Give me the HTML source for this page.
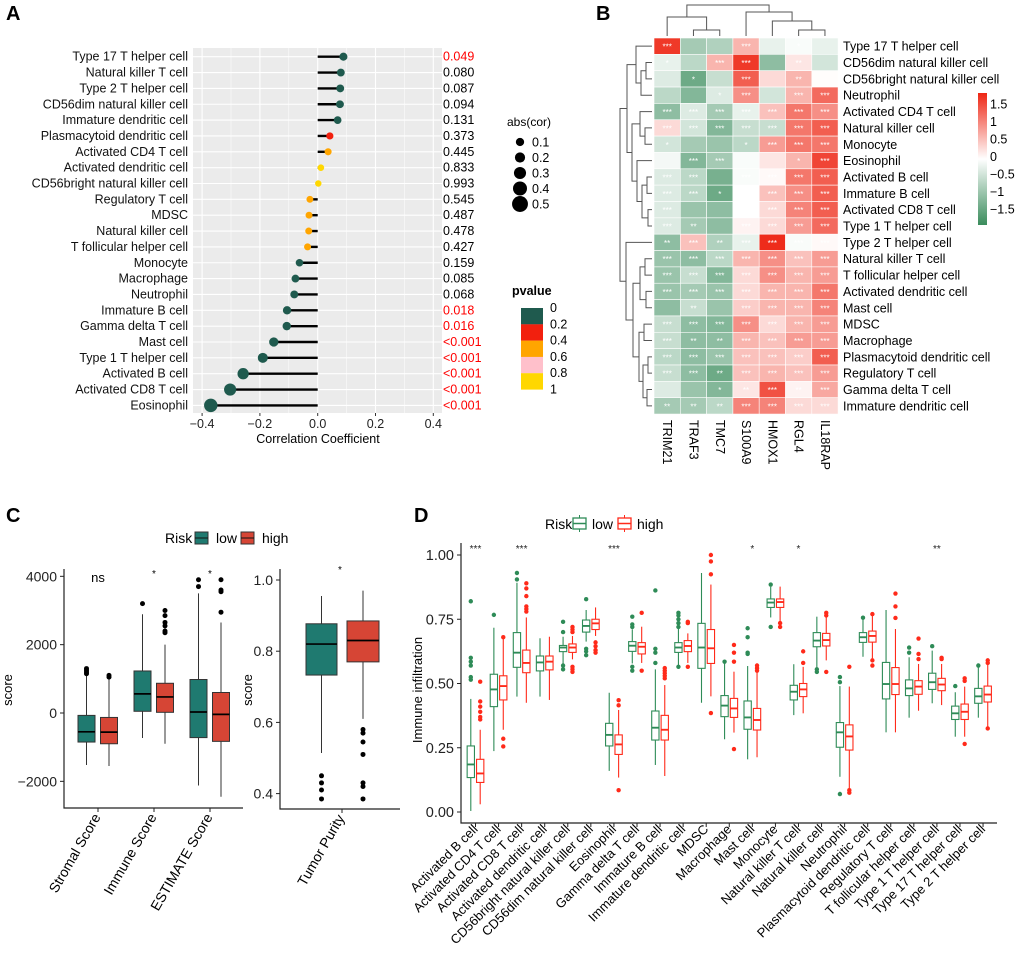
<!DOCTYPE html>
<html><head><meta charset="utf-8">
<style>
html,body{margin:0;padding:0;background:#fff;}
svg{display:block;font-family:"Liberation Sans",Arial,sans-serif;}
</style></head>
<body>
<svg id="fig" width="1020" height="964" viewBox="0 0 1020 964" xmlns="http://www.w3.org/2000/svg">
<text x="6" y="20" font-size="20" font-weight="bold">A</text>
<text x="596" y="20" font-size="20" font-weight="bold">B</text>
<text x="6" y="522" font-size="20" font-weight="bold">C</text>
<text x="414" y="522" font-size="20" font-weight="bold">D</text>
</svg>
<script>
// ---------- Panel A data ----------
const aLabels = ["Type 17 T helper cell","Natural killer T cell","Type 2 T helper cell","CD56dim natural killer cell","Immature dendritic cell","Plasmacytoid dendritic cell","Activated CD4 T cell","Activated dendritic cell","CD56bright natural killer cell","Regulatory T cell","MDSC","Natural killer cell","T follicular helper cell","Monocyte","Macrophage","Neutrophil","Immature  B cell","Gamma delta T cell","Mast cell","Type 1 T helper cell","Activated B cell","Activated CD8 T cell","Eosinophil"];
const aCor = [0.089,0.080,0.078,0.077,0.069,0.042,0.036,0.011,0.002,-0.027,-0.030,-0.031,-0.035,-0.063,-0.077,-0.081,-0.106,-0.107,-0.152,-0.190,-0.258,-0.303,-0.370];
const aPval = [0.049,0.080,0.087,0.094,0.131,0.373,0.445,0.833,0.993,0.545,0.487,0.478,0.427,0.159,0.085,0.068,0.018,0.016,0.0005,0.0005,0.0005,0.0005,0.0005];
const aPtext = ["0.049","0.080","0.087","0.094","0.131","0.373","0.445","0.833","0.993","0.545","0.487","0.478","0.427","0.159","0.085","0.068","0.018","0.016","<0.001","<0.001","<0.001","<0.001","<0.001"];
const aTicks = [-0.4,-0.2,0.0,0.2,0.4];
const aTickLabels = ["\u22120.4","\u22120.2","0.0","0.2","0.4"];
const sizeLegend = [0.1,0.2,0.3,0.4,0.5];
const pLegend = ["0","0.2","0.4","0.6","0.8","1"];
// ---------- Panel B data ----------
const bRows = ["Type 17 T helper cell","CD56dim natural killer cell","CD56bright natural killer cell","Neutrophil","Activated CD4 T cell","Natural killer cell","Monocyte","Eosinophil","Activated B cell","Immature  B cell","Activated CD8 T cell","Type 1 T helper cell","Type 2 T helper cell","Natural killer T cell","T follicular helper cell","Activated dendritic cell","Mast cell","MDSC","Macrophage","Plasmacytoid dendritic cell","Regulatory T cell","Gamma delta T cell","Immature dendritic cell"];
const bCols = ["TRIM21","TRAF3","TMC7","S100A9","HMOX1","RGL4","IL18RAP"];
const bVals = [
[1.6,-0.8,-0.7,0.6,-0.2,-0.05,-0.2],
[-0.2,-0.6,0.6,1.6,-1.0,0.2,-0.4],
[-0.3,-1.3,-0.5,1.3,0.3,0.6,0.02],
[-0.6,-1.1,-0.3,0.9,-0.4,0.6,1.2],
[-1.0,-0.3,-0.8,-0.2,0.5,1.1,0.9],
[0.3,-0.4,-1.1,-0.5,-0.5,1.1,1.3],
[-0.4,-0.8,-0.9,-0.6,0.8,1.1,1.1],
[-0.1,-1.1,-0.8,-0.05,0.2,0.6,1.5],
[-0.3,-0.6,-1.2,-0.05,0.05,1.1,1.3],
[-0.3,-0.6,-1.3,0.0,0.5,0.9,1.3],
[-0.3,-0.9,-1.0,0.0,0.3,1.0,1.3],
[-0.3,-0.8,-1.0,0.1,0.3,0.8,1.2],
[-1.0,0.5,-0.7,-0.2,1.7,-0.05,0.05],
[-0.9,-1.0,-0.6,0.6,0.9,0.5,0.8],
[-0.9,-0.5,-1.1,0.3,0.9,0.6,0.8],
[-0.9,-0.8,-0.9,0.3,0.6,0.6,1.1],
[-1.0,-0.5,-0.9,0.4,0.6,0.6,1.0],
[-0.5,-1.0,-1.1,0.9,0.3,0.6,0.8],
[-0.5,-1.0,-1.0,0.6,0.5,0.8,0.8],
[-0.6,-1.0,-0.9,0.5,0.5,0.4,1.3],
[-0.5,-1.0,-1.3,0.5,0.6,0.5,0.8],
[-0.3,-0.9,-1.1,0.2,1.4,0.1,0.7],
[-0.8,-0.8,-0.6,1.0,1.0,0.3,0.3]];
const bStars = ["3003010","1033020","0103020","0013033","3333333","3333333","1001333","0330013","3303333","3310333","3000333","3203333","2323333","3333333","3333333","3333333","0203333","3333333","3223333","3333333","3323333","0012323","2223333"];
const bLegendTicks = [1.5,1,0.5,0,-0.5,-1,-1.5];
const bLegendLabels = ["1.5","1","0.5","0","\u22120.5","\u22121","\u22121.5"];
// ---------- Panel C data ----------
const cCats = ["Stromal Score","Immune Score","ESTIMATE Score"];
const cSig = ["ns","*","*"];
const cLowQ1 = [-850,50,-720], cLowMed = [-550,560,30], cLowQ3 = [-70,1230,980], cLowMin = [-1520,-730,-2120], cLowMax = [1100,2890,3500];
const cLowOut = [[1150,1200,1250,1300],[3200],[3700,3900]];
const cHighQ1 = [-900,20,-830], cHighMed = [-560,470,-40], cHighQ3 = [-130,870,600], cHighMin = [-1550,-900,-2450], cHighMax = [1000,2000,2650];
const cHighOut = [[1050,1100],[2350,2400,2550,2650,2850,3000],[2950,3550,3600,3900]];
const cTicks = [-2000,0,2000,4000];
const cTickLabels = ["\u22122000","0","2000","4000"];
const tpLow = {q1:0.733,med:0.82,q3:0.877,min:0.514,max:0.955,out:[0.45,0.43,0.41,0.385]};
const tpHigh = {q1:0.77,med:0.83,q3:0.885,min:0.61,max:0.97,out:[0.58,0.57,0.545,0.51,0.43,0.42,0.385]};
const tpTicks = [0.4,0.6,0.8,1.0];
const tpTickLabels = ["0.4","0.6","0.8","1.0"];
// ---------- Panel D data ----------
const dCats = ["Activated B cell","Activated CD4 T cell","Activated CD8 T cell","Activated dendritic cell","CD56bright natural killer cell","CD56dim natural killer cell","Eosinophil","Gamma delta T cell","Immature  B cell","Immature dendritic cell","MDSC","Macrophage","Mast cell","Monocyte","Natural killer T cell","Natural killer cell","Neutrophil","Plasmacytoid dendritic cell","Regulatory T cell","T follicular helper cell","Type 1 T helper cell","Type 17 T helper cell","Type 2 T helper cell"];
const dSig = ["***","","***","","","","***","","","","","","*","","*","","","","","","**","",""];
const dLowQ1 = [0.134,0.41,0.563,0.549,0.624,0.70,0.257,0.625,0.28,0.621,0.559,0.371,0.322,0.796,0.436,0.643,0.252,0.66,0.44,0.453,0.477,0.36,0.423];
const dLowMed = [0.185,0.477,0.62,0.582,0.64,0.724,0.30,0.647,0.328,0.64,0.64,0.414,0.368,0.815,0.468,0.667,0.31,0.68,0.498,0.481,0.505,0.384,0.45];
const dLowQ3 = [0.257,0.536,0.698,0.607,0.648,0.747,0.345,0.663,0.393,0.659,0.734,0.453,0.432,0.829,0.493,0.698,0.348,0.698,0.582,0.514,0.54,0.412,0.481];
const dLowMin = [0.004,0.237,0.449,0.449,0.578,0.663,0.16,0.578,0.183,0.566,0.425,0.283,0.205,0.757,0.377,0.559,0.137,0.604,0.31,0.367,0.423,0.293,0.367];
const dLowMax = [0.44,0.717,0.892,0.676,0.682,0.786,0.464,0.711,0.555,0.715,0.93,0.585,0.568,0.877,0.575,0.76,0.49,0.754,0.786,0.602,0.628,0.466,0.568];
const dLowOut = [[0.82,0.6,0.585,0.57,0.525,0.515],[0.767],[0.93,0.905],[],[0.74,0.70,0.57,0.555],[0.828,0.635,0.625,0.61],[],[0.76,0.73,0.72,0.565,0.55],[0.862,0.635,0.62,0.58],[0.775,0.765,0.75,0.735,0.72,0.565],[],[0.585],[0.715,0.68,0.62,0.615],[0.885,0.72],[],[0.555,0.545],[0.525,0.505,0.07],[0.756],[],[0.64,0.62],[0.645],[0.49],[0.57]];
const dHighQ1 = [0.115,0.436,0.542,0.553,0.621,0.71,0.224,0.615,0.28,0.624,0.578,0.368,0.319,0.796,0.449,0.646,0.241,0.661,0.457,0.458,0.472,0.36,0.428];
const dHighMed = [0.15,0.49,0.58,0.585,0.64,0.734,0.263,0.643,0.32,0.646,0.637,0.403,0.358,0.817,0.477,0.669,0.294,0.685,0.498,0.488,0.496,0.39,0.457];
const dHighQ3 = [0.205,0.53,0.63,0.607,0.654,0.75,0.30,0.659,0.376,0.667,0.71,0.442,0.403,0.829,0.50,0.695,0.339,0.704,0.562,0.511,0.52,0.42,0.49];
const dHighMin = [0.03,0.32,0.425,0.436,0.594,0.685,0.134,0.58,0.14,0.58,0.45,0.309,0.213,0.74,0.384,0.59,0.08,0.598,0.31,0.394,0.416,0.293,0.332];
const dHighMax = [0.32,0.676,0.757,0.682,0.685,0.796,0.397,0.721,0.494,0.695,0.885,0.546,0.565,0.877,0.565,0.77,0.488,0.769,0.712,0.576,0.576,0.488,0.578];
const dHighOut = [[0.507,0.43,0.41,0.39,0.37,0.36],[0.68,0.285,0.255],[0.89,0.87,0.84,0.80,0.79,0.78],[],[0.72,0.71,0.70,0.565,0.555,0.545],[0.66,0.645,0.63,0.62],[0.435,0.415,0.085],[0.775,0.55],[0.56,0.55,0.54,0.53,0.52],[0.74,0.735,0.565],[1.0,0.975,0.925,0.385],[0.65,0.62,0.585,0.245],[0.57,0.56,0.55],[0.735,0.72],[0.625,0.58],[0.775,0.765,0.545],[0.565,0.085,0.075],[0.77,0.59,0.57],[0.85,0.80,0.755],[0.675,0.615,0.595],[0.6,0.595],[0.52,0.51,0.265],[0.59,0.58,0.325]];
const dTicks = [0,0.25,0.5,0.75,1.0];
const dTickLabels = ["0.00","0.25","0.50","0.75","1.00"];

const NS = "http://www.w3.org/2000/svg";
const svg = document.getElementById("fig");
function mk(tag, attrs, parent){
  const e = document.createElementNS(NS, tag);
  for (const k in attrs) e.setAttribute(k, attrs[k]);
  (parent||svg).appendChild(e);
  return e;
}
function txt(x,y,s,attrs,parent){
  const e = mk("text", Object.assign({x:x,y:y}, attrs), parent);
  e.textContent = s;
  return e;
}

// ================= PANEL A =================
const gA = mk("g",{});


const axZero = 317.7, axK = 289, rowY0 = 56.7, rowStep = 15.85;
const xA = v => axZero + v*axK;
const yA = i => rowY0 + i*rowStep;
const bgA = mk("rect",{x:193,y:48,width:249,height:365,fill:"#ebebeb"},gA);


for (let v=-0.4; v<=0.401; v+=0.1){
  const major = Math.abs(Math.round(v*10))%2===0;
  const gl = mk("line",{x1:xA(v),x2:xA(v),y1:48,y2:413,stroke:"#fff","stroke-width":major?1.1:0.5},gA);
  
  
}
for (let i=0;i<aLabels.length;i++){
  const hl = mk("line",{x1:193,x2:442,y1:yA(i),y2:yA(i),stroke:"#fff","stroke-width":1.1},gA);
  
  
}
function pColor(p){ if(p<0.2) return "#1f5a4e"; if(p<0.4) return "#f2200e"; if(p<0.6) return "#ffa500"; if(p<0.8) return "#ffc0cb"; return "#ffd700"; }
for (let i=0;i<aLabels.length;i++){
  const y = yA(i);
  const lab = txt(188,y+4,aLabels[i],{"font-size":12.5,"text-anchor":"end",fill:"#111"},gA);
  
  
  const stem = mk("line",{x1:xA(0),x2:xA(aCor[i]),y1:y,y2:y,stroke:"#000","stroke-width":2.4},gA);
  
  
  const dot = mk("circle",{cx:xA(aCor[i]),cy:y,r:3.2+9.5*Math.abs(aCor[i]),fill:pColor(aPval[i])},gA);
  
  
  const pt = txt(443,y+4,aPtext[i],{"font-size":12.5,fill:aPval[i]<0.05?"#ff0000":"#000"},gA);
  
  
}
for (let i=0;i<aTicks.length;i++){
  const tk = mk("line",{x1:xA(aTicks[i]),x2:xA(aTicks[i]),y1:413,y2:416,stroke:"#333"},gA);
  
  
  const tl = txt(xA(aTicks[i]),428,aTickLabels[i],{"font-size":12.5,"text-anchor":"middle",fill:"#222"},gA);
  
  
}
const aXT = txt(318,443,"Correlation Coefficient",{"font-size":12.5,"text-anchor":"middle"},gA);


// size legend
const sLT = txt(507,126,"abs(cor)",{"font-size":12},gA);


for (let i=0;i<sizeLegend.length;i++){
  const yy = 142 + i*15.5;
  const c = mk("circle",{cx:520,cy:yy,r:3.2+9.5*sizeLegend[i],fill:"#000"},gA);
  
  
  const t = txt(532,yy+4.5,String(sizeLegend[i]),{"font-size":12.5},gA);
  
  
}
const pLT = txt(512,295,"pvalue",{"font-size":12.5,"font-weight":"bold"},gA);


const pCols = ["#1f5a4e","#f2200e","#ffa500","#ffc0cb","#ffd700"];
for (let i=0;i<5;i++){
  const r = mk("rect",{x:521,y:308+i*16.3,width:22,height:16.4,fill:pCols[i]},gA);
  
  
}
for (let i=0;i<pLegend.length;i++){
  const t = txt(550,312+i*16.3,pLegend[i],{"font-size":12.5},gA);
  
  
}

// ================= PANEL B =================
const gB = mk("g",{});


const hx0 = 654, hy0 = 38, cw = 26.3, ch = 16.35;
function lerp(a,b,t){return Math.round(a+(b-a)*t);}
function heatColor(v){
  const t = Math.min(1, Math.abs(v)/1.75);
  const c = v>=0 ? [238,38,20] : [58,140,92];
  return "rgb("+lerp(255,c[0],t)+","+lerp(255,c[1],t)+","+lerp(255,c[2],t)+")";
}
for (let r=0;r<bRows.length;r++){
  for (let c=0;c<bCols.length;c++){
    const cell = mk("rect",{x:hx0+c*cw,y:hy0+r*ch,width:cw,height:ch,fill:heatColor(bVals[r][c]),stroke:"#fff","stroke-width":0.6},gB);
    
    
    const n = +bStars[r][c];
    if (n>0){
      const st = txt(hx0+c*cw+cw/2,hy0+r*ch+ch/2+3.5,"*".repeat(n),{"font-size":8,"text-anchor":"middle",fill:"#fff"},gB);
      
      
    }
  }
  const rl = txt(843,hy0+r*ch+ch/2+4.5,bRows[r],{"font-size":12.5,fill:"#000"},gB);
  
  
}
for (let c=0;c<bCols.length;c++){
  const cx = hx0+c*cw+cw/2;
  const cl = txt(cx-4,420,bCols[c],{"font-size":12.5,transform:"rotate(90 "+(cx-4)+" 420)"},gB);
  
  
}
// dendrograms
const rowTree = [620,
 [627,[636,0,[641,[646,1,2],3]],[632,[640,4,[645,5,6]],[637,7,[642,[647,8,9],[648,10,11]]]]],
 [626,12,[633,[640,[645,13,14],[646,15,16]],[639,[644,17,18],[643,[648,19,20],[647,21,22]]]]]];
const dend = mk("g",{stroke:"#555","stroke-width":1,fill:"none"},gB);


function drawRow(n){
  if (typeof n==="number") return {x:652,y:hy0+n*ch+ch/2};
  const a = drawRow(n[1]), b = drawRow(n[2]);
  mk("path",{d:"M"+a.x+","+a.y+"H"+n[0]+"V"+b.y+"H"+b.x},dend);
  return {x:n[0],y:(a.y+b.y)/2};
}
drawRow(rowTree);
const colTree = [5,[17,0,[30,1,2]],[12,3,[21,4,[30,5,6]]]];
const dendC = mk("g",{stroke:"#555","stroke-width":1,fill:"none"},gB);


function drawCol(n){
  if (typeof n==="number") return {x:hx0+n*cw+cw/2,y:36};
  const a = drawCol(n[1]), b = drawCol(n[2]);
  mk("path",{d:"M"+a.x+","+a.y+"V"+n[0]+"H"+b.x+"V"+b.y},dendC);
  return {x:(a.x+b.x)/2,y:n[0]};
}
drawCol(colTree);
// colorbar
const defs = mk("defs",{});
const grad = mk("linearGradient",{id:"hg",x1:0,y1:0,x2:0,y2:1},defs);
[[0,1.8],[0.5,0],[1,-1.9]].forEach(s=>mk("stop",{offset:s[0],"stop-color":heatColor(s[1])},grad));
const cbar = mk("rect",{x:978,y:93,width:9,height:132,fill:"url(#hg)"},gB);


for (let i=0;i<bLegendTicks.length;i++){
  const t = txt(990,156.7-bLegendTicks[i]*35+4.5,bLegendLabels[i],{"font-size":12.5},gB);
  
  
}

// ================= PANEL C =================
const gC = mk("g",{});


const cLowCol = "#1f7a70", cHighCol = "#d64535";
// legend
const cRisk = txt(165,543,"Risk",{"font-size":14},gC);


[[195,cLowCol,"low",216],[241,cHighCol,"high",262]].forEach(d=>{
  const k = mk("rect",{x:d[0],y:532,width:13,height:12,fill:d[1],stroke:"#333"},gC);
  
  
  mk("line",{x1:d[0],x2:d[0]+13,y1:538,y2:538,stroke:"#111"},gC);
  const t = txt(d[3],543,d[2],{"font-size":14},gC);
  
  
});
function drawBox(g,cx,w,yf,q1,med,q3,mn,mx,outs,fill,stroke,lw,medCol,orad,ocol,name){
  const wl = mk("line",{x1:cx,x2:cx,y1:yf(mn),y2:yf(mx),stroke:stroke,"stroke-width":lw},g);
  
  
  const b = mk("rect",{x:cx-w/2,y:yf(q3),width:w,height:yf(q1)-yf(q3),fill:fill,stroke:stroke,"stroke-width":lw},g);
  
  
  const m = mk("line",{x1:cx-w/2,x2:cx+w/2,y1:yf(med),y2:yf(med),stroke:medCol,"stroke-width":lw*1.7},g);
  
  
  outs.forEach(o=>{
    const p = mk("circle",{cx:cx,cy:yf(o),r:orad,fill:ocol},g);
    
    
  });
}
const yC = v => 713 - v*0.03417;
const cX = [98,154,210];
const cAx = mk("path",{d:"M64,569V808H243",stroke:"#222","stroke-width":1.2,fill:"none"},gC);


for (let i=0;i<cTicks.length;i++){
  mk("line",{x1:60,x2:64,y1:yC(cTicks[i]),y2:yC(cTicks[i]),stroke:"#222"},gC);
  const t = txt(57,yC(cTicks[i])+5,cTickLabels[i],{"font-size":14,"text-anchor":"end",fill:"#222"},gC);
  
  
}
const cYT = txt(12,690,"score",{"font-size":13,"text-anchor":"middle",transform:"rotate(-90 12 690)"},gC);


for (let i=0;i<cCats.length;i++){
  drawBox(gC,cX[i]-11.5,17,yC,cLowQ1[i],cLowMed[i],cLowQ3[i],cLowMin[i],cLowMax[i],cLowOut[i],cLowCol,"#333",1,"#000",2.5,"#000","c-low");
  drawBox(gC,cX[i]+11,17,yC,cHighQ1[i],cHighMed[i],cHighQ3[i],cHighMin[i],cHighMax[i],cHighOut[i],cHighCol,"#333",1,"#000",2.5,"#000","c-high");
  mk("line",{x1:cX[i],x2:cX[i],y1:808,y2:812,stroke:"#222"},gC);
  const t = txt(cX[i]+3,817,cCats[i],{"font-size":14,"text-anchor":"end",transform:"rotate(-60 "+(cX[i]+3)+" 817)"},gC);
  
  
  const s = txt(cX[i],cSig[i]==="ns"?582:577,cSig[i],{"font-size":cSig[i]==="ns"?13:10,"text-anchor":"middle"},gC);
  
  
}
// tumor purity subplot
const yT = v => 580 + (1-v)*356;
const tAx = mk("path",{d:"M280,569V809H400",stroke:"#222","stroke-width":1.2,fill:"none"},gC);


for (let i=0;i<tpTicks.length;i++){
  mk("line",{x1:276,x2:280,y1:yT(tpTicks[i]),y2:yT(tpTicks[i]),stroke:"#222"},gC);
  const t = txt(273,yT(tpTicks[i])+5,tpTickLabels[i],{"font-size":14,"text-anchor":"end",fill:"#222"},gC);
  
  
}
const tYT = txt(252,690,"score",{"font-size":13,"text-anchor":"middle",transform:"rotate(-90 252 690)"},gC);


drawBox(gC,321.5,31,yT,tpLow.q1,tpLow.med,tpLow.q3,tpLow.min,tpLow.max,tpLow.out,cLowCol,"#333",1,"#000",2.5,"#000","purity-low");
drawBox(gC,363,32,yT,tpHigh.q1,tpHigh.med,tpHigh.q3,tpHigh.min,tpHigh.max,tpHigh.out,cHighCol,"#333",1,"#000",2.5,"#000","purity-high");
mk("line",{x1:342,x2:342,y1:809,y2:813,stroke:"#222"},gC);
const tpl = txt(345,818,"Tumor Purity",{"font-size":14,"text-anchor":"end",transform:"rotate(-60 345 818)"},gC);


const tps = txt(340,573,"*",{"font-size":10,"text-anchor":"middle"},gC);



// ================= PANEL D =================
const gD = mk("g",{});


const dLowCol = "#2e8b57", dHighCol = "#ff2a1a";
const yD = v => 812 - v*257;
const xD = i => 475.5 + i*23.07;
const dRisk = txt(545,529,"Risk",{"font-size":14},gD);


[[573,dLowCol,"low",592],[618,dHighCol,"high",637]].forEach(d=>{
  const k = mk("rect",{x:d[0],y:518,width:13,height:11,fill:"#fff",stroke:d[1],"stroke-width":1.3},gD);
  
  
  mk("line",{x1:d[0],x2:d[0]+13,y1:523.5,y2:523.5,stroke:d[1],"stroke-width":1.5},gD);
  mk("line",{x1:d[0]+6.5,x2:d[0]+6.5,y1:515,y2:518,stroke:d[1]},gD);
  mk("line",{x1:d[0]+6.5,x2:d[0]+6.5,y1:529,y2:532,stroke:d[1]},gD);
  const t = txt(d[3],529,d[2],{"font-size":14},gD);
  
  
});
const dAx = mk("path",{d:"M461,543V823H997",stroke:"#222","stroke-width":1.2,fill:"none"},gD);


for (let i=0;i<dTicks.length;i++){
  mk("line",{x1:457,x2:461,y1:yD(dTicks[i]),y2:yD(dTicks[i]),stroke:"#222"},gD);
  const t = txt(454,yD(dTicks[i])+5,dTickLabels[i],{"font-size":14.5,"text-anchor":"end",fill:"#222"},gD);
  
  
}
const dYT = txt(422,690,"Immune infiltration",{"font-size":13,"text-anchor":"middle",transform:"rotate(-90 422 690)"},gD);


for (let i=0;i<dCats.length;i++){
  const cx = xD(i);
  drawBox(gD,cx-4.7,7.3,yD,dLowQ1[i],dLowMed[i],dLowQ3[i],dLowMin[i],dLowMax[i],dLowOut[i],"#fff",dLowCol,1.1,dLowCol,2.2,dLowCol,"d-low");
  drawBox(gD,cx+4.7,7.3,yD,dHighQ1[i],dHighMed[i],dHighQ3[i],dHighMin[i],dHighMax[i],dHighOut[i],"#fff",dHighCol,1.1,dHighCol,2.2,dHighCol,"d-high");
  mk("line",{x1:cx,x2:cx,y1:823,y2:827,stroke:"#222"},gD);
  const t = txt(cx+3,830,dCats[i],{"font-size":13,"text-anchor":"end",transform:"rotate(-45 "+(cx+3)+" 830)"},gD);
  
  
  if (dSig[i]){
    const s = txt(cx,552,dSig[i],{"font-size":10,"text-anchor":"middle",fill:"#222"},gD);
    
    
  }
}
</script>
</body></html>
